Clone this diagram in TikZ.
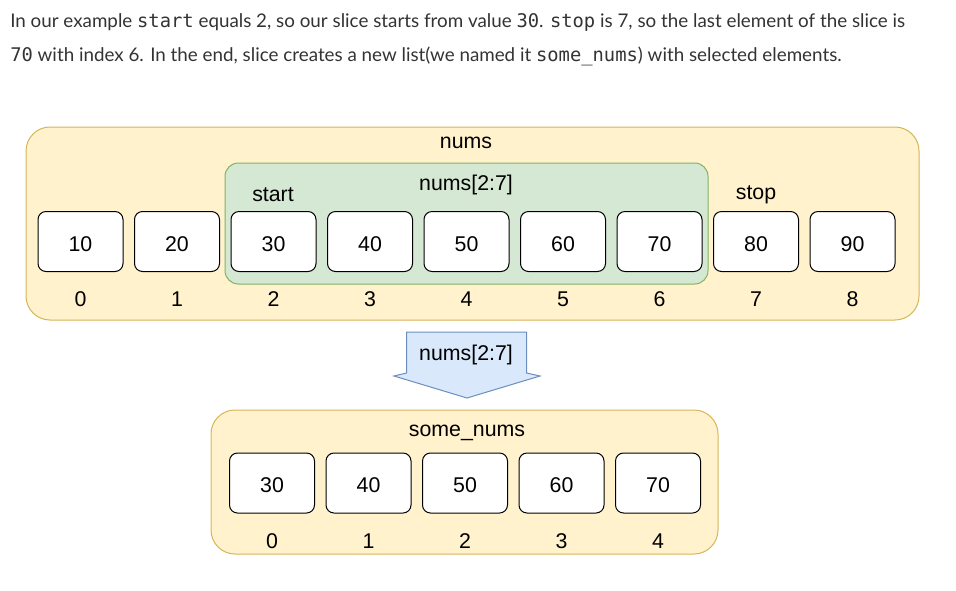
\documentclass[tikz,border=0pt]{standalone}
\usepackage{fontspec}
\setmainfont{Lato}
\newfontfamily\codefont{DejaVu Sans Mono}
\newfontfamily\diafont{Liberation Sans}
\usepackage{tikz}
\usetikzlibrary{positioning}
\definecolor{listfill}{HTML}{FFF2CC}
\definecolor{listline}{HTML}{D6B656}
\definecolor{slicefill}{HTML}{D5E8D4}
\definecolor{sliceline}{HTML}{82B366}
\definecolor{arrowfill}{HTML}{DAE8FC}
\definecolor{arrowline}{HTML}{6C8EBF}
\definecolor{prose}{HTML}{333333}
\newcommand{\code}[1]{{\codefont #1}}

\begin{document}
\begin{tikzpicture}[x=0.75pt,y=-0.75pt,
  cell/.style={draw,fill=white,rounded corners=6pt,line width=0.75pt,
    minimum width=63.75pt,minimum height=45pt,text height=14.5pt,text depth=0pt,
    font=\diafont\fontsize{16}{19}\selectfont},
  lbl/.style={font=\diafont\fontsize{16}{19}\selectfont},
  line/.style={anchor=base west,text=prose,font=\fontsize{14.1}{17}\selectfont,inner sep=0pt}]
\useasboundingbox (0,0) rectangle (956,590);
% explanation text
\node[line] (t1) at (10,27) {In our example \code{start} equals 2, so our slice starts from value \code{30}. \code{stop} is 7, so the last element of the slice is};
\node[line] (t2) at (10,61) {\code{70} with index 6. In the end, slice creates a new list(we named it \code{some\_nums}) with selected elements.};
% nums and the slice
\draw[listline,fill=listfill,line width=0.75pt,rounded corners=18pt] (26,127) rectangle (919,320);
\draw[sliceline,fill=slicefill,line width=0.75pt,rounded corners=10pt] (225,163) rectangle (708,284);
\node[lbl] (nums) at (466,143) {nums};
\node[lbl] (slice) at (466,185) {nums[2:7]};
\node[lbl] (start) at (273,195) {start};
\node[lbl] (stop) at (756,195) {stop};
\foreach \v [count=\i from 0] in {10,20,30,40,50,60,70,80,90}{
  \node[cell] (v\i) at (80.5+96.5*\i,241.5) {\v};
  \node[lbl] (i\i) at (80.5+96.5*\i,299) {\i};
}
% arrow
\draw[arrowline,fill=arrowfill,line width=0.75pt] (406.5,332)--(526.5,332)--(526.5,373)--(540,376)--(467,398)--(394,376)--(406.5,373)--cycle;
\node[lbl] (op) at (466,355) {nums[2:7]};
% some_nums
\draw[listline,fill=listfill,line width=0.75pt,rounded corners=18pt] (211,410) rectangle (718,554);
\node[lbl] (some) at (467,433) {some\_nums};
\foreach \v [count=\i from 0] in {30,40,50,60,70}{
  \node[cell] (w\i) at (272+96.5*\i,483) {\v};
  \node[lbl] (j\i) at (272+96.5*\i,541) {\i};
}
\end{tikzpicture}
\end{document}
